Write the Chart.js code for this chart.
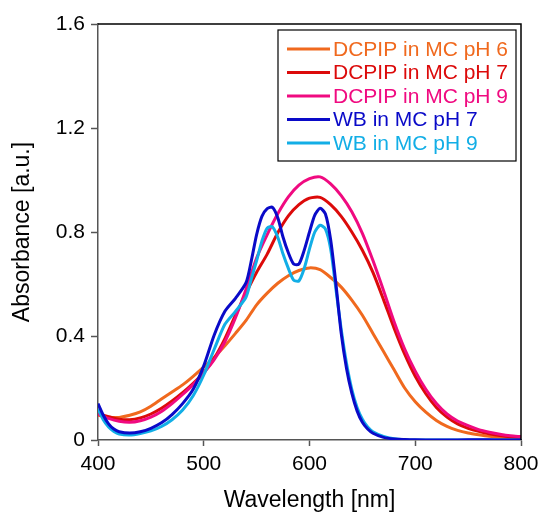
<!DOCTYPE html>
<html>
<head>
<meta charset="utf-8">
<script src="https://cdn.jsdelivr.net/npm/chart.js@4.4.0/dist/chart.umd.min.js"></script>
<style>
  html, body { margin: 0; padding: 0; background: #ffffff; }
  #wrap { width: 539px; height: 514px; position: relative; }
</style>
</head>
<body>
<div id="wrap"><canvas id="c" width="539" height="514"></canvas></div>
<script>
// ---- data ----
const seriesLabels = ["DCPIP in MC pH 6", "DCPIP in MC pH 7", "DCPIP in MC pH 9", "WB in MC pH 7", "WB in MC pH 9"];
const seriesColors = ["#F0691E", "#DC0A0A", "#F00A80", "#0A0AC8", "#12AEE6"];

const wlDcpip = [400,410,420,430,440,450,460,470,480,490,500,510,520,530,540,550,560,570,580,590,600,610,620,630,640,650,660,670,680,690,700,710,720,730,740,750,760,770,780,790,800];
const dcpipPH6 = [0.095,0.088,0.087,0.095,0.108,0.13,0.158,0.185,0.212,0.245,0.281,0.318,0.362,0.41,0.46,0.52,0.565,0.603,0.632,0.652,0.662,0.655,0.625,0.588,0.538,0.48,0.41,0.34,0.27,0.2,0.147,0.107,0.075,0.052,0.037,0.027,0.02,0.014,0.01,0.007,0.005];
const dcpipPH7 = [0.10,0.09,0.08,0.078,0.085,0.1,0.122,0.15,0.182,0.218,0.26,0.315,0.39,0.48,0.565,0.645,0.715,0.797,0.862,0.905,0.93,0.933,0.905,0.86,0.8,0.73,0.645,0.54,0.43,0.33,0.245,0.178,0.125,0.088,0.062,0.045,0.033,0.024,0.017,0.012,0.009];
const dcpipPH9 = [0.10,0.083,0.072,0.068,0.074,0.088,0.11,0.14,0.175,0.213,0.258,0.31,0.378,0.47,0.58,0.70,0.79,0.87,0.935,0.98,1.005,1.012,0.985,0.94,0.878,0.795,0.69,0.575,0.455,0.35,0.265,0.195,0.14,0.1,0.073,0.055,0.04,0.03,0.022,0.016,0.013];

const wlWb = [400,405,410,415,420,430,440,450,460,470,480,490,500,510,520,530,540,545,550,555,560,565,570,575,580,585,590,595,600,605,610,615,620,625,630,635,640,645,650,655,660,670,680,690,700,720,740,760,780,800];
const wbPH7 = [0.14,0.095,0.062,0.042,0.032,0.027,0.032,0.045,0.066,0.098,0.14,0.195,0.285,0.405,0.495,0.545,0.605,0.69,0.79,0.86,0.89,0.895,0.855,0.78,0.72,0.677,0.677,0.73,0.8,0.865,0.891,0.87,0.77,0.6,0.41,0.275,0.18,0.112,0.068,0.042,0.026,0.01,0.004,0.002,0.001,0.0,0.0,0.001,0.0,0.0];
const wbPH9 = [0.12,0.078,0.05,0.033,0.023,0.019,0.025,0.035,0.052,0.078,0.115,0.17,0.25,0.35,0.445,0.495,0.55,0.62,0.69,0.765,0.815,0.82,0.78,0.715,0.66,0.615,0.612,0.66,0.735,0.8,0.826,0.812,0.735,0.58,0.425,0.295,0.195,0.125,0.08,0.05,0.032,0.014,0.005,0.001,0.0,0.0,0.0,0.0,0.0,0.0];

const xTickValues = [400,500,600,700,800];
const yTickValues = [0,0.4,0.8,1.2,1.6];
const xTitle = "Wavelength [nm]";
const yTitle = "Absorbance [a.u.]";

// ---- build datasets ----
function pts(xs, ys) { return xs.map((x, i) => ({ x: x, y: ys[i] })); }
const seriesData = [pts(wlDcpip, dcpipPH6), pts(wlDcpip, dcpipPH7), pts(wlDcpip, dcpipPH9), pts(wlWb, wbPH7), pts(wlWb, wbPH9)];
const drawOrder = [5, 4, 3, 1, 2];
const datasets = seriesLabels.map((lab, i) => ({
  label: lab,
  data: seriesData[i],
  borderColor: seriesColors[i],
  backgroundColor: seriesColors[i],
  borderWidth: 3,
  pointRadius: 0,
  tension: 0.25,
  fill: false,
  order: drawOrder[i]
}));

const FONT = "'Liberation Sans', Arial, Helvetica, sans-serif";

// frame (top & right) + legend box drawn inside the chart area
const framePlugin = {
  id: 'frameAndLegend',
  afterDraw(chart) {
    const ctx = chart.ctx;
    const a = chart.chartArea;
    ctx.save();
    ctx.strokeStyle = '#000';
    ctx.lineWidth = 1.5;
    ctx.beginPath();
    ctx.moveTo(a.left, a.top);
    ctx.lineTo(a.right, a.top);
    ctx.lineTo(a.right, a.bottom);
    ctx.stroke();

    // legend
    const bx = a.right - 243, by = a.top + 6, bw = 238, bh = 131;
    ctx.fillStyle = '#fff';
    ctx.fillRect(bx, by, bw, bh);
    ctx.lineWidth = 1.2;
    ctx.strokeStyle = '#000';
    ctx.strokeRect(bx, by, bw, bh);
    ctx.font = "21px " + FONT;
    ctx.textBaseline = 'middle';
    ctx.textAlign = 'left';
    chart.data.datasets.forEach((ds, i) => {
      const yy = by + 19 + i * 23.5;
      ctx.strokeStyle = ds.borderColor;
      ctx.lineWidth = 3;
      ctx.beginPath();
      ctx.moveTo(bx + 9, yy);
      ctx.lineTo(bx + 52, yy);
      ctx.stroke();
      ctx.fillStyle = ds.borderColor;
      ctx.fillText(ds.label, bx + 55, yy + 1);
    });
    ctx.restore();
  }
};

new Chart(document.getElementById('c'), {
  type: 'line',
  data: { datasets: datasets },
  options: {
    responsive: false,
    animation: false,
    devicePixelRatio: 1,
    layout: { padding: { top: 24, right: 18, left: 0, bottom: 0 } },
    plugins: { legend: { display: false }, tooltip: { enabled: false } },
    scales: {
      x: {
        type: 'linear',
        min: 400, max: 800,
        afterFit(s) { s.height = 74; s.paddingRight = 0; s.paddingLeft = 0; },
        afterBuildTicks(s) { s.ticks = xTickValues.map(v => ({ value: v })); },
        ticks: { color: '#000', font: { size: 21, family: FONT }, padding: 6, maxRotation: 0 },
        grid: { drawOnChartArea: false, drawTicks: true, tickLength: 6, tickColor: '#555', tickWidth: 1.5 },
        border: { display: true, color: '#555', width: 1.5 },
        title: { display: true, text: xTitle, color: '#000', font: { size: 23, family: FONT }, padding: { top: 0, bottom: 0 } }
      },
      y: {
        type: 'linear',
        min: 0, max: 1.6,
        afterFit(s) { s.width = 98; s.paddingTop = 0; s.paddingBottom = 0; },
        afterBuildTicks(s) { s.ticks = yTickValues.map(v => ({ value: v })); },
        ticks: { color: '#000', font: { size: 21, family: FONT }, padding: 6,
                 callback: (v) => String(Math.round(v * 10) / 10) },
        grid: { drawOnChartArea: false, drawTicks: true, tickLength: 7, tickColor: '#555', tickWidth: 1.5 },
        border: { display: true, color: '#555', width: 1.5 },
        title: { display: true, text: yTitle, color: '#000', font: { size: 23, family: FONT }, padding: { top: 9, bottom: 0 } }
      }
    }
  },
  plugins: [framePlugin]
});
</script>
</body>
</html>
